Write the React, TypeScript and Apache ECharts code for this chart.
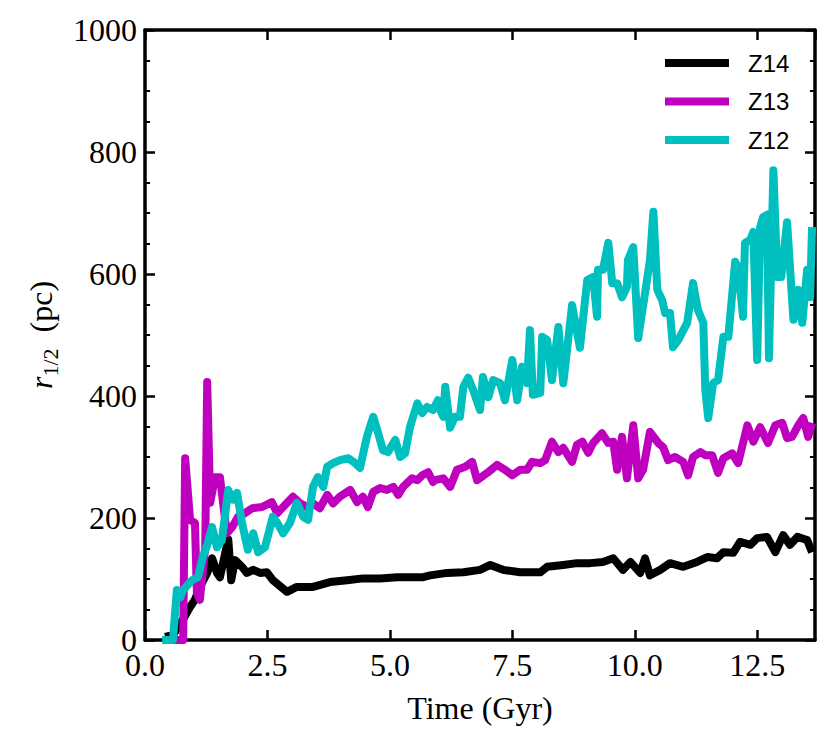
import React, { useEffect, useRef } from "react";
import * as echarts from "echarts";

const seriesNames = ["Z14", "Z13", "Z12"];
const seriesColors = ["#000000", "#bf00bf", "#00bfbf"];

const xTicks = [0, 2.5, 5, 7.5, 10, 12.5];
const yTicks = [0, 200, 400, 600, 800, 1000];

const z14: [number, number][] = [
  [0.41, 5], [0.57, 8], [0.75, 30], [0.92, 54], [1.02, 66], [1.12, 87], [1.27, 110], [1.37, 134],
  [1.47, 110], [1.53, 103], [1.70, 165], [1.76, 98], [1.84, 131], [1.98, 120], [2.08, 110],
  [2.21, 115], [2.35, 110], [2.49, 111], [2.61, 98], [2.90, 79], [3.10, 87], [3.43, 87],
  [3.78, 95], [4.13, 98], [4.45, 101], [4.80, 101], [5.15, 103], [5.68, 103], [5.82, 106],
  [6.17, 110], [6.50, 111], [6.84, 115], [7.05, 123], [7.31, 115], [7.66, 111], [8.07, 111],
  [8.21, 120], [8.54, 123], [8.82, 126], [9.09, 126], [9.35, 128], [9.56, 134], [9.76, 115],
  [9.91, 128], [10.11, 110], [10.21, 134], [10.31, 106], [10.52, 115], [10.72, 126], [10.99, 120],
  [11.27, 128], [11.48, 136], [11.68, 134], [11.81, 144], [12.01, 143], [12.15, 161], [12.36, 156],
  [12.50, 167], [12.70, 169], [12.87, 144], [13.03, 172], [13.17, 156], [13.32, 169], [13.52, 164],
  [13.62, 144],
];

const z13: [number, number][] = [
  [0.41, 0], [0.78, 0], [0.82, 298], [0.92, 197], [1.02, 192], [1.06, 77], [1.12, 66], [1.23, 152],
  [1.27, 423], [1.33, 225], [1.43, 267], [1.53, 267], [1.67, 175], [1.78, 185], [1.90, 202],
  [2.04, 208], [2.19, 216], [2.39, 218], [2.59, 226], [2.70, 208], [2.82, 218], [3.02, 235],
  [3.17, 224], [3.31, 218], [3.43, 224], [3.57, 216], [3.72, 238], [3.84, 224], [3.98, 235],
  [4.19, 246], [4.33, 226], [4.45, 235], [4.55, 218], [4.66, 243], [4.80, 249], [4.94, 246],
  [5.07, 251], [5.17, 238], [5.27, 251], [5.45, 265], [5.56, 262], [5.66, 270], [5.78, 275],
  [5.88, 259], [5.92, 262], [6.09, 265], [6.23, 251], [6.37, 279], [6.54, 284], [6.68, 292],
  [6.78, 262], [6.99, 274], [7.19, 287], [7.35, 279], [7.50, 270], [7.66, 279], [7.80, 279],
  [7.90, 292], [8.07, 290], [8.17, 295], [8.31, 325], [8.44, 308], [8.54, 315], [8.72, 292],
  [8.82, 320], [8.93, 325], [9.05, 307], [9.15, 323], [9.33, 339], [9.46, 323], [9.56, 325],
  [9.64, 279], [9.74, 333], [9.84, 265], [9.97, 352], [10.07, 265], [10.17, 279], [10.31, 341],
  [10.48, 323], [10.58, 316], [10.68, 295], [10.82, 300], [10.99, 292], [11.09, 270], [11.19, 300],
  [11.34, 308], [11.44, 303], [11.58, 303], [11.70, 274], [11.81, 298], [11.99, 306], [12.11, 290],
  [12.30, 352], [12.42, 325], [12.56, 349], [12.72, 323], [12.87, 352], [13.01, 356], [13.11, 331],
  [13.21, 333], [13.34, 352], [13.44, 364], [13.54, 333], [13.62, 356],
];

const z12: [number, number][] = [
  [0.35, 0], [0.57, 0], [0.65, 82], [0.72, 70], [0.78, 82], [0.96, 98], [1.08, 103], [1.18, 136],
  [1.27, 156], [1.37, 185], [1.47, 152], [1.57, 164], [1.70, 246], [1.80, 230], [1.88, 241],
  [1.98, 192], [2.10, 148], [2.21, 175], [2.31, 144], [2.45, 152], [2.61, 202], [2.70, 192],
  [2.82, 175], [2.96, 192], [3.10, 225], [3.23, 202], [3.33, 197], [3.43, 251], [3.53, 267],
  [3.64, 251], [3.72, 284], [3.84, 290], [3.98, 295], [4.15, 298], [4.29, 290], [4.39, 282],
  [4.53, 333], [4.66, 366], [4.76, 339], [4.86, 311], [4.96, 308], [5.11, 328], [5.21, 300],
  [5.31, 306], [5.41, 349], [5.56, 388], [5.66, 372], [5.76, 382], [5.88, 377], [5.98, 393],
  [6.03, 377], [6.09, 366], [6.13, 415], [6.23, 348], [6.33, 366], [6.43, 366], [6.50, 415],
  [6.60, 430], [6.70, 410], [6.84, 377], [6.90, 431], [7.01, 398], [7.11, 426], [7.25, 421],
  [7.35, 393], [7.50, 459], [7.60, 393], [7.70, 448], [7.80, 421], [7.86, 508], [7.92, 402],
  [8.07, 405], [8.11, 497], [8.21, 492], [8.31, 426], [8.44, 513], [8.54, 421], [8.72, 549],
  [8.88, 479], [9.03, 590], [9.15, 595], [9.23, 530], [9.25, 607], [9.35, 607], [9.46, 651],
  [9.54, 585], [9.64, 585], [9.74, 562], [9.84, 579], [9.86, 623], [9.97, 644], [10.07, 495],
  [10.21, 569], [10.31, 623], [10.38, 702], [10.46, 574], [10.56, 557], [10.62, 536], [10.72, 536],
  [10.78, 480], [10.89, 492], [11.07, 520], [11.19, 585], [11.29, 541], [11.40, 520], [11.44, 410],
  [11.50, 364], [11.60, 421], [11.70, 426], [11.81, 497], [11.91, 497], [12.05, 620], [12.11, 611],
  [12.21, 530], [12.25, 651], [12.36, 656], [12.42, 669], [12.50, 459], [12.56, 677], [12.62, 693],
  [12.70, 697], [12.74, 462], [12.83, 770], [12.91, 595], [12.99, 595], [13.11, 685], [13.24, 525],
  [13.34, 574], [13.42, 520], [13.52, 607], [13.58, 562], [13.62, 677],
];

const seriesData = [z14, z13, z12];

const SERIF = "'Liberation Serif', 'DejaVu Serif', serif";
const SANS = "'Liberation Sans', Arial, sans-serif";

export default function App() {
  const ref = useRef<HTMLDivElement>(null);
  useEffect(() => {
    if (!ref.current) return;
    const chart = echarts.init(ref.current, null, { renderer: "svg" });
    const xMin = xTicks[0];
    const xMax = 13.68;
    const yMin = yTicks[0];
    const yMax = yTicks[yTicks.length - 1];
    const axisLine = { show: true, onZero: false, lineStyle: { color: "#000", width: 3.5 } };
    const majorTick = { show: true, inside: true, length: 10, lineStyle: { color: "#000", width: 2.5 } };
    const minorTick = { show: true, splitNumber: 4, length: 5, lineStyle: { color: "#000", width: 2 } };
    const labelStyle = { fontFamily: SERIF, fontSize: 32, color: "#000" };

    chart.setOption({
      animation: false,
      backgroundColor: "#fff",
      grid: { left: 145, top: 30, right: 16, bottom: 103, containLabel: false },
      legend: {
        data: seriesNames,
        orient: "vertical",
        left: 660,
        top: 45,
        icon: "rect",
        itemWidth: 64,
        itemHeight: 8,
        itemGap: 12.5,
        textStyle: { fontFamily: SANS, fontSize: 24, color: "#000", padding: [0, 0, 0, 14], lineHeight: 26 },
      },
      xAxis: [
        {
          type: "value",
          min: xMin,
          max: xMax,
          interval: 2.5,
          position: "bottom",
          axisLine,
          axisTick: majorTick,
          splitLine: { show: false },
          axisLabel: {
            ...labelStyle,
            margin: 9,
            showMaxLabel: false,
            formatter: (v: number) => v.toFixed(1),
          },
          name: "Time (Gyr)",
          nameLocation: "middle",
          nameGap: 52,
          nameTextStyle: { fontFamily: SERIF, fontSize: 32, color: "#000" },
        },
        {
          type: "value",
          min: xMin,
          max: xMax,
          interval: 2.5,
          position: "top",
          axisLine,
          axisTick: majorTick,
          splitLine: { show: false },
          axisLabel: { show: false },
        },
      ],
      yAxis: [
        {
          type: "value",
          min: yMin,
          max: yMax,
          interval: 200,
          position: "left",
          axisLine,
          axisTick: majorTick,
          minorTick,
          splitLine: { show: false },
          minorSplitLine: { show: false },
          axisLabel: { ...labelStyle, margin: 8, formatter: (v: number) => String(v) },
          name: "{i|r}{s|1/2}{p|  (pc)}",
          nameLocation: "middle",
          nameRotate: 90,
          nameGap: 84,
          nameTextStyle: {
            fontFamily: SERIF,
            fontSize: 32,
            color: "#000",
            rich: {
              i: { fontFamily: SERIF, fontSize: 32, fontStyle: "italic", color: "#000", lineHeight: 40, verticalAlign: "middle" },
              s: { fontFamily: SERIF, fontSize: 22, color: "#000", lineHeight: 40, verticalAlign: "bottom" },
              p: { fontFamily: SERIF, fontSize: 32, color: "#000", lineHeight: 40, verticalAlign: "middle" },
            },
          },
        },
        {
          type: "value",
          min: yMin,
          max: yMax,
          interval: 200,
          position: "right",
          axisLine,
          axisTick: majorTick,
          minorTick,
          splitLine: { show: false },
          minorSplitLine: { show: false },
          axisLabel: { show: false },
        },
      ],
      series: seriesNames.map((name, i) => ({
        name,
        type: "line",
        xAxisIndex: 0,
        yAxisIndex: 0,
        data: seriesData[i],
        showSymbol: false,
        symbol: "none",
        color: seriesColors[i],
        lineStyle: { color: seriesColors[i], width: 8, join: "round", cap: "butt" },
        z: 2 + i,
      })),
    });
    return () => chart.dispose();
  }, []);
  return (
    <div
      ref={ref}
      style={{ position: "fixed", left: 0, top: 0, width: 831, height: 743, background: "#fff" }}
    />
  );
}
